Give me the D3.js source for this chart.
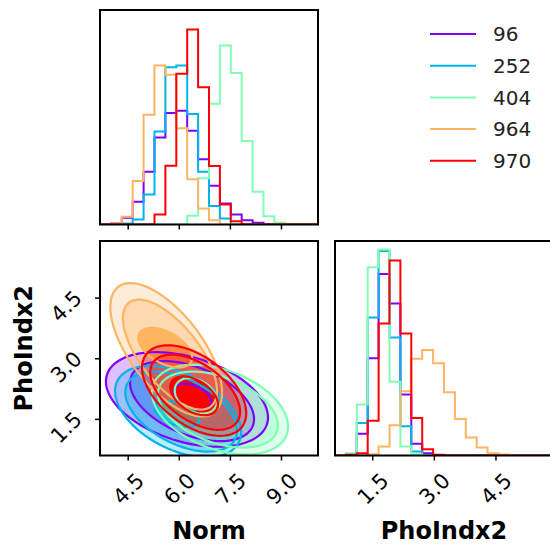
<!DOCTYPE html>
<html>
<head>
<meta charset="utf-8">
<script src="https://cdn.jsdelivr.net/npm/d3@7"></script>
<style>
body{margin:0;background:#fff;}
text{font-family:"DejaVu Sans",sans-serif;}
</style>
</head>
<body>
<div id="chart"></div>
<script>

// series
var labels=["96","252","404","964","970"];
var colors=["#8000ff","#00b4eb","#80ffb4","#ffb462","#ff0000"];

// axis ranges (histograms use 20 bins over these)
var normRange=[3.687,10.087];
var phoRange=[0.594,5.9];
var normTicks=[4.5,6.0,7.5,9.0];
var phoTicks=[1.5,3.0,4.5];

// Norm histogram counts, one row per series
var normHist=[
  [0,3,20,68,158,260,333,340,280,195,116,63,30,13,5,0,0,0,0,0],
  [0,0,3,15,90,278,470,475,330,158,55,18,0,0,0,0,0,0,0,0],
  [0,0,0,0,0,0,0,0,26,138,361,535,453,250,98,25,5,0,0,0],
  [0,3,23,130,328,475,448,288,135,48,13,0,0,0,0,0,0,0,0,0],
  [0,0,0,0,0,30,176,451,583,410,175,60,10,0,0,0,0,0,0,0]
];

// PhoIndx2 histogram counts
var phoHist=[
  [0,4,65,290,542,454,182,35,7,0,0,0,0,0,0,0,0,0,0,0],
  [0,4,97,412,610,352,87,12,0,0,0,0,0,0,0,0,0,0,0,0],
  [0,7,152,562,615,220,27,4,0,0,0,0,0,0,0,0,0,0,0,0],
  [0,0,0,4,27,90,192,289,315,275,189,109,54,24,7,3,0,0,0,0],
  [0,2,7,104,394,582,364,112,19,2,0,0,0,0,0,0,0,0,0,0]
];

// 2d contours: outer, middle, inner  [cx, cy, half x, half y, rho]
var contour96=[[6.24,1.98,2.38,1.17,-0.38],[6.39,1.94,1.82,0.99,-0.45],[6.40,2.05,0.55,0.32,-0.4]];
var contour252=[[5.98,1.68,1.85,1.13,-0.45],[6.07,1.68,1.64,0.99,-0.48],[5.95,1.62,0.65,0.32,-0.45]];
var contour404=[[7.21,1.73,2.0,1.11,-0.38],[7.15,1.73,1.76,0.94,-0.42],[6.50,2.07,0.62,0.44,-0.3]];
var contour964=[[5.63,3.21,1.64,1.65,-0.64],[5.74,3.09,1.38,1.36,-0.66],[5.60,3.26,0.79,0.49,-0.5]];
var contour970=[[6.45,2.20,1.53,1.12,-0.5],[6.48,2.16,1.32,0.93,-0.52],[6.45,2.07,0.70,0.48,-0.45]];
var contours=[contour96,contour252,contour404,contour964,contour970];
var fillAlpha=[0.25,0.5,1];

var W=550,H=544;
var left=100,top0=10,pw=218,ph=214.5,gap=17;
var col2=left+pw+gap, row2=top0+ph+gap-0.5;

var svg=d3.select("#chart").append("svg")
  .attr("width",W).attr("height",H);

var xNorm=d3.scaleLinear().domain(normRange).range([0,pw]);
var xPho=d3.scaleLinear().domain(phoRange).range([0,pw]);
var yPho=d3.scaleLinear().domain(phoRange).range([ph,0]);

function edges(r){
  var w=(r[1]-r[0])/20;
  return d3.range(21).map(i=>r[0]+i*w);
}

function stepPath(counts,e,x,y){
  var p=[[x(e[0]),y(0)]];
  counts.forEach(function(c,i){
    p.push([x(e[i]),y(c)]);
    p.push([x(e[i+1]),y(c)]);
  });
  p.push([x(e[20]),y(0)]);
  return d3.line()(p);
}

function histPanel(g,hist,range,x){
  var e=edges(range);
  var y=d3.scaleLinear().domain([0,1.1*d3.max(hist[4])]).range([ph,0]);
  var id="c"+Math.round(range[0]*1000);
  g.append("clipPath").attr("id",id)
    .append("rect").attr("width",pw).attr("height",ph);
  var inner=g.append("g").attr("clip-path","url(#"+id+")");
  hist.forEach(function(h,i){
    inner.append("path")
      .attr("d",stepPath(h,e,x,y))
      .attr("fill","none")
      .attr("stroke",colors[i])
      .attr("stroke-width",2);
  });
}

// top-left: Norm histogram
var gTL=svg.append("g").attr("transform",`translate(${left},${top0})`);
histPanel(gTL,normHist,normRange,xNorm);
gTL.append("g").attr("transform",`translate(0,${ph})`)
  .call(d3.axisBottom(xNorm).tickValues(normTicks).tickSize(5).tickFormat(""));

// bottom-right: PhoIndx2 histogram
var gBR=svg.append("g").attr("transform",`translate(${col2},${row2})`);
histPanel(gBR,phoHist,phoRange,xPho);
gBR.append("g").attr("class","xlab").attr("transform",`translate(0,${ph})`)
  .call(d3.axisBottom(xPho).tickValues(phoTicks).tickSize(5).tickFormat(d3.format(".1f")));

// bottom-left: 2d contours
var gBL=svg.append("g").attr("transform",`translate(${left},${row2})`);
gBL.append("clipPath").attr("id","c2d").append("rect").attr("width",pw).attr("height",ph);
var c2d=gBL.append("g").attr("clip-path","url(#c2d)");

function ellipse(p){
  var s=Math.sqrt(1-p[4]*p[4]);
  var pts=d3.range(90).map(function(k){
    var t=k/90*2*Math.PI;
    return [xNorm(p[0]+p[2]*Math.cos(t)),
            yPho(p[1]+p[3]*(p[4]*Math.cos(t)+s*Math.sin(t)))];
  });
  return d3.line().curve(d3.curveLinearClosed)(pts);
}

// filled regions first, all series
contours.forEach(function(lv,i){
  for(var j=0;j<3;j++){
    var d=ellipse(lv[j])+(j<2?ellipse(lv[j+1]):"");
    c2d.append("path")
      .attr("d",d)
      .attr("fill-rule","evenodd")
      .attr("fill",colors[i])
      .attr("fill-opacity",fillAlpha[j]);
  }
});
// then contour lines
contours.forEach(function(lv,i){
  lv.forEach(function(p){
    c2d.append("path")
      .attr("d",ellipse(p))
      .attr("fill","none")
      .attr("stroke",colors[i])
      .attr("stroke-width",2.2);
  });
});

gBL.append("g").attr("class","xlab").attr("transform",`translate(0,${ph})`)
  .call(d3.axisBottom(xNorm).tickValues(normTicks).tickSize(5).tickFormat(d3.format(".1f")));
gBL.append("g").attr("class","ylab")
  .call(d3.axisLeft(yPho).tickValues(phoTicks).tickSize(5).tickFormat(d3.format(".1f")));

// frames
[gTL,gBR,gBL].forEach(function(g){
  g.append("rect").attr("width",pw).attr("height",ph)
    .attr("fill","none").attr("stroke","#000").attr("stroke-width",2);
});

svg.selectAll(".domain").remove();
svg.selectAll(".tick line").attr("stroke","#000").attr("stroke-width",1.5);
svg.selectAll(".xlab .tick text")
  .attr("y",0).attr("dy","0.36em")
  .attr("text-anchor","middle")
  .attr("transform","translate(0,33) rotate(-45)")
  .style("font-size","21px").attr("fill","#000");
svg.selectAll(".ylab .tick text")
  .attr("x",0).attr("dy","0.36em")
  .attr("text-anchor","middle")
  .attr("transform","translate(-34,8) rotate(-45)")
  .style("font-size","21px").attr("fill","#000");

// axis titles
svg.append("text")
  .attr("x",left+pw/2).attr("y",539)
  .attr("text-anchor","middle")
  .style("font-size","24px").style("font-weight","bold")
  .text("Norm");
svg.append("text")
  .attr("x",col2+pw/2).attr("y",539)
  .attr("text-anchor","middle")
  .style("font-size","24px").style("font-weight","bold")
  .text("PhoIndx2");
svg.append("text")
  .attr("transform",`translate(32,${row2+ph/2}) rotate(-90)`)
  .attr("text-anchor","middle")
  .style("font-size","24px").style("font-weight","bold")
  .text("PhoIndx2");

// legend
var leg=svg.append("g").attr("transform","translate(430,34)");
labels.forEach(function(l,i){
  var r=leg.append("g").attr("transform",`translate(0,${i*31.7})`);
  r.append("line").attr("x1",0).attr("x2",46)
    .attr("stroke",colors[i]).attr("stroke-width",2);
  r.append("text").attr("x",63).attr("dy","0.36em")
    .style("font-size","20px").attr("fill","#222").text(l);
});

</script>
</body>
</html>
